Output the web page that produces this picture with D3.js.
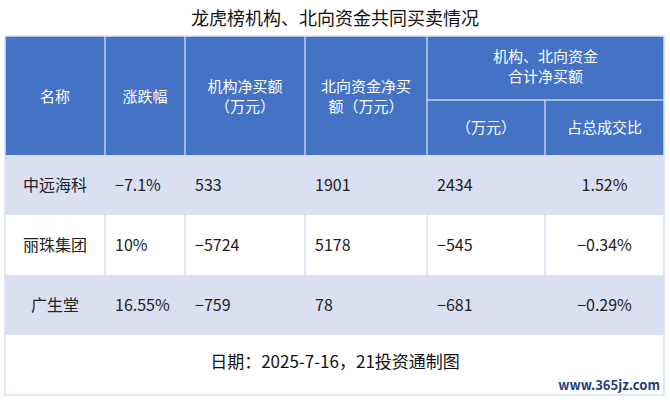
<!DOCTYPE html>
<html><head><meta charset="utf-8">
<script src="https://cdn.jsdelivr.net/npm/d3@7"></script>
<style>body{margin:0;background:#fff}text{font-family:"Noto Sans CJK SC",sans-serif}</style>
</head><body><svg id="chart" width="670" height="400"></svg>
<script>
const title = '龙虎榜机构、北向资金共同买卖情况'
const names = ['中远海科', '丽珠集团', '广生堂']
const changes = ['-7.1%', '10%', '16.55%']
const instNet = ['533', '-5724', '-759']
const northNet = ['1901', '5178', '78']
const totalNet = ['2434', '-545', '-681']
const ratio = ['1.52%', '-0.34%', '-0.29%']
const footer = '日期：2025-7-16，21投资通制图'

const svg = d3.select('#chart')
const colEdges = [5, 105, 185, 305, 427, 545, 664]
const blue = '#4472c4', lav = '#dadff2'

svg.append('text').text(title).attr('x', 335).attr('y', 25)
  .attr('text-anchor', 'middle').attr('font-size', 18).attr('fill', '#111')

// header
svg.append('rect').attr('x', 5).attr('y', 36).attr('width', 659).attr('height', 119).attr('fill', blue)
const hdr = svg.append('g').attr('fill', '#fff').attr('font-size', 15).attr('text-anchor', 'middle')
const mid = i => (colEdges[i] + colEdges[i + 1]) / 2
const hText = (x, y, lines) => lines.forEach((l, k) => hdr.append('text').text(l).attr('x', x).attr('y', y + k * 20))
hText(mid(0), 102, ['名称'])
hText(mid(1), 102, ['涨跌幅'])
hText(mid(2), 92, ['机构净买额', '（万元）'])
hText(mid(3), 92, ['北向资金净买', '额（万元）'])
hText((colEdges[4] + colEdges[6]) / 2, 62, ['机构、北向资金', '合计净买额'])
hText(mid(4), 133, ['（万元）'])
hText(mid(5), 133, ['占总成交比'])
const hl = svg.append('g').attr('stroke', '#fff').attr('stroke-width', 1)
colEdges.slice(1, 6).forEach((x, i) => hl.append('line').attr('x1', x).attr('x2', x)
  .attr('y1', i === 4 ? 100 : 36).attr('y2', 155))
hl.append('line').attr('x1', 427).attr('x2', 664).attr('y1', 100).attr('y2', 100)

// body rows
const y = d3.scaleBand().domain(d3.range(names.length)).range([155, 335])
const rows = svg.append('g').selectAll('g').data(names).join('g')
  .attr('transform', (d, i) => `translate(0,${y(i)})`)
rows.append('rect').attr('x', 5).attr('width', 659).attr('height', y.bandwidth())
  .attr('fill', (d, i) => i % 2 === 0 ? lav : '#fff')
const cols = [names, changes, instNet, northNet, totalNet, ratio]
const anchors = ['middle', 'start', 'start', 'start', 'start', 'middle']
cols.forEach((arr, c) => {
  rows.append('text').text((d, i) => arr[i].replace('-', '−'))
    .attr('x', anchors[c] === 'middle' ? mid(c) : colEdges[c] + 10)
    .attr('y', y.bandwidth() / 2 + 6).attr('text-anchor', anchors[c])
    .attr('font-size', 16).attr('fill', '#222')
})
const bl = svg.append('g').attr('stroke', lav).attr('stroke-width', 1.5)
colEdges.slice(1, 6).forEach(x => bl.append('line').attr('x1', x).attr('x2', x).attr('y1', 155).attr('y2', 335))
// outer border
svg.append('rect').attr('x', 5).attr('y', 36).attr('width', 659).attr('height', 359)
  .attr('fill', 'none').attr('stroke', lav).attr('stroke-width', 1.5)

svg.append('text').text(footer).attr('x', 335).attr('y', 368).attr('text-anchor', 'middle')
  .attr('font-size', 17).attr('fill', '#111')
svg.append('text').text('www.365jz.com').attr('x', 660).attr('y', 390).attr('text-anchor', 'end')
  .attr('font-family', 'DejaVu Serif').attr('font-weight', 'bold').attr('font-size', 13).attr('fill', '#1f3f7a')
</script></body></html>
